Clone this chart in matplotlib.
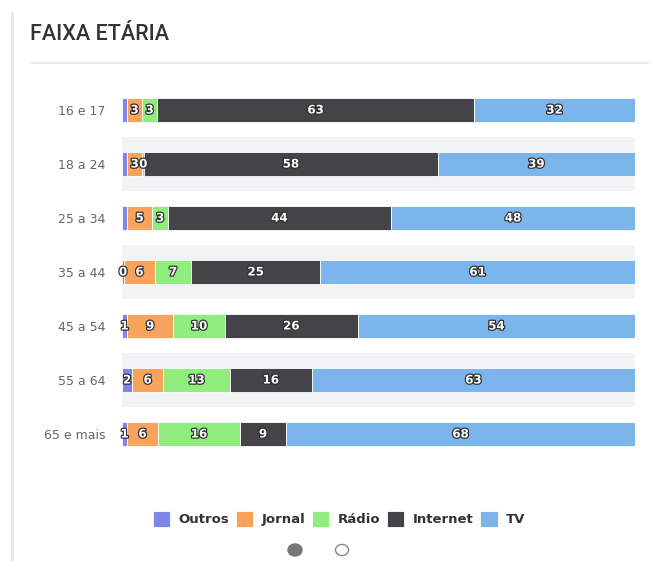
import numpy as np
import matplotlib.pyplot as plt
import matplotlib.patheffects as pe
from matplotlib.patches import Circle, Rectangle
from matplotlib.lines import Line2D

# faixas etárias e valores (%) por meio
categorias = ['16 e 17', '18 a 24', '25 a 34', '35 a 44', '45 a 54', '55 a 64', '65 e mais']
outros = [1, 1, 1, 0.4, 1, 2, 1]
jornal = [3, 3, 5, 6, 9, 6, 6]
radio = [3, 0.4, 3, 7, 10, 13, 16]
internet = [63, 58, 44, 25, 26, 16, 9]
tv = [32, 39, 48, 61, 54, 63, 68]
series_nomes = ['Outros', 'Jornal', 'Rádio', 'Internet', 'TV']
# rótulos de "Outros" escondidos pelo gráfico original nas três primeiras faixas
outros_rotulo_visivel = [False, False, False, True, True, True, True]

cores = ['#8085e9', '#f7a35c', '#90ed7d', '#434348', '#7cb5ec']

W, H = 652, 561
fig = plt.figure(figsize=(W / 100, H / 100), dpi=100)
fig.patch.set_facecolor('white')


def fx(px):
    return px / W


def fy(py):
    return 1 - py / H


# barra lateral e título
fig.add_artist(Rectangle((fx(11), 0), fx(3), fy(12), transform=fig.transFigure,
                         color='#e8e8e8', lw=0))
fig.text(fx(30), fy(34), 'FAIXA ETÁRIA', fontsize=15.5, color='#333333',
         family='Roboto', fontweight='medium', va='center', ha='left')
fig.add_artist(Line2D([fx(31), fx(648)], [fy(63), fy(63)], transform=fig.transFigure,
                      color='#e6e6e6', lw=1.2))

ax = fig.add_axes([fx(122), fy(461), fx(635) - fx(122), fy(83) - fy(461)])

dados = np.array([outros, jornal, radio, internet, tv], dtype=float)
totais = dados.sum(axis=0)
perc = dados / totais * 100
y = np.arange(len(categorias))

for i in range(len(categorias)):
    if i % 2 == 1:
        ax.axhspan(i - 0.5, i + 0.5, color='#f2f3f5', zorder=0, lw=0)

esquerda = np.zeros(len(categorias))
handles = []
for s, nome in enumerate(series_nomes):
    b = ax.barh(y, perc[s], left=esquerda, height=0.45, color=cores[s],
                edgecolor='white', linewidth=0.6, zorder=2, label=nome)
    handles.append(b)
    for i in range(len(categorias)):
        if s == 0 and not outros_rotulo_visivel[i]:
            continue
        cx = esquerda[i] + perc[s][i] / 2
        t = ax.text(cx, i, f'{dados[s][i]:.0f}', ha='center', va='center',
                    fontsize=8.5, fontweight='bold', color='white', zorder=3)
        t.set_path_effects([pe.withStroke(linewidth=1.8, foreground='#333333')])
    esquerda += perc[s]

ax.set_xlim(0, 100)
ax.set_ylim(len(categorias) - 0.5, -0.5)
ax.set_yticks(y)
ax.set_yticklabels(categorias, color='#666666', fontsize=9)
ax.tick_params(axis='y', length=0, pad=12)
ax.set_xticks([])
for sp in ax.spines.values():
    sp.set_visible(False)
ax.set_facecolor('none')

leg = fig.legend(handles=handles, labels=series_nomes, loc='center',
                 bbox_to_anchor=(fx(339), fy(519)), ncol=5, frameon=False,
                 handlelength=1.3, handleheight=1.5, handletextpad=0.6,
                 columnspacing=0.55, prop={'size': 9.5, 'weight': 'bold'})
for txt in leg.get_texts():
    txt.set_color('#333333')

# indicadores de página
fig.add_artist(Circle((fx(295), fy(550)), fx(7), transform=fig.transFigure,
                      facecolor='#777777', edgecolor='#777777'))
fig.add_artist(Circle((fx(342), fy(550)), fx(6.5), transform=fig.transFigure,
                      facecolor='white', edgecolor='#888888', lw=1))

fig.savefig('out.png', dpi=100)
